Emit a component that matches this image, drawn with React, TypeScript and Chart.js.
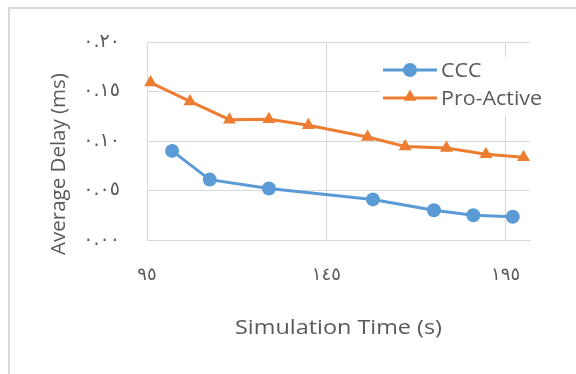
import React, { useEffect, useRef } from "react";
import { Chart, registerables } from "chart.js";

Chart.register(...registerables);

const cccX = [102, 112.5, 129, 158, 175, 186, 197];
const cccY = [0.090, 0.061, 0.052, 0.041, 0.030, 0.025, 0.0235];
const proX = [96, 107, 118, 129, 140, 156.5, 167, 178.5, 189.5, 200];
const proY = [0.159, 0.140, 0.1215, 0.122, 0.116, 0.104, 0.0945, 0.093, 0.0867, 0.0837];

const xTickValues = [95, 145, 195];
const xTickLabels = ["٩٥", "١٤٥", "١٩٥"];
const yTickValues = [0, 0.05, 0.1, 0.15, 0.2];
const yTickLabels = ["٠.٠٠", "٠.٠٥", "٠.١٠", "٠.١٥", "٠.٢٠"];

const seriesNames = ["CCC", "Pro-Active"];
const xTitle = "Simulation Time (s)";
const yTitle = "Average Delay (ms)";

const BLUE = "#5B9BD5";
const ORANGE = "#ED7D31";
const GRID = "#D9D9D9";
const TEXT = "#595959";
const FONT = "'Open Sans', sans-serif";
const TICK_FONT = "'DejaVu Sans', sans-serif";

function stretchedText(
  ctx: CanvasRenderingContext2D,
  text: string,
  x: number,
  y: number,
  sx: number,
  align: CanvasTextAlign
) {
  ctx.save();
  ctx.translate(x, y);
  ctx.scale(sx, 1);
  ctx.textAlign = align;
  ctx.fillText(text, 0, 0);
  ctx.restore();
}

const decor = {
  id: "decor",
  afterDraw(chart: any) {
    const ctx = chart.ctx as CanvasRenderingContext2D;
    const area = chart.chartArea;
    ctx.save();
    // outer frame (left + top edges)
    ctx.fillStyle = GRID;
    ctx.fillRect(8, 7, 568, 2);
    ctx.fillRect(8, 7, 2, 367);

    // axis titles
    ctx.fillStyle = TEXT;
    ctx.textBaseline = "middle";
    ctx.font = `20px ${FONT}`;
    stretchedText(ctx, xTitle, (area.left + area.right) / 2, 328, 1.17, "center");
    ctx.save();
    ctx.font = `20.5px ${FONT}`;
    ctx.translate(59, 164);
    ctx.rotate(-Math.PI / 2);
    ctx.textAlign = "center";
    ctx.fillText(yTitle, 0, 0);
    ctx.restore();

    // legend
    const lx = 380, ly = 57;
    ctx.fillStyle = "#FFFFFF";
    ctx.fillRect(lx, ly, 170, 58);
    const rows = [
      { name: seriesNames[0], color: BLUE, style: "circle", y: 70 },
      { name: seriesNames[1], color: ORANGE, style: "triangle", y: 98 },
    ];
    rows.forEach((r) => {
      ctx.strokeStyle = r.color;
      ctx.lineWidth = 3;
      ctx.beginPath();
      ctx.moveTo(383, r.y);
      ctx.lineTo(437, r.y);
      ctx.stroke();
      ctx.fillStyle = r.color;
      ctx.beginPath();
      if (r.style === "circle") {
        ctx.arc(410, r.y, 7, 0, Math.PI * 2);
      } else {
        const rad = 7.5;
        for (let i = 0; i < 3; i++) {
          const a = (i * 2 * Math.PI) / 3;
          const px = 410 + Math.sin(a) * rad;
          const py = r.y - 1 - Math.cos(a) * rad;
          if (i === 0) ctx.moveTo(px, py);
          else ctx.lineTo(px, py);
        }
        ctx.closePath();
      }
      ctx.fill();
      ctx.fillStyle = TEXT;
      ctx.font = `19.5px ${FONT}`;
      ctx.textBaseline = "middle";
      stretchedText(ctx, r.name, 441, r.y + 1, 1.1, "left");
    });
    ctx.restore();
  },
};

export default function App() {
  const ref = useRef<HTMLCanvasElement | null>(null);

  useEffect(() => {
    if (!ref.current) return;
    const chart = new Chart(ref.current, {
      type: "scatter",
      data: {
        datasets: [
          {
            label: seriesNames[0],
            data: cccX.map((x, i) => ({ x, y: cccY[i] })),
            showLine: true,
            borderColor: BLUE,
            backgroundColor: BLUE,
            borderWidth: 3,
            pointStyle: "circle",
            pointRadius: 7,
            pointBorderWidth: 0,
            clip: false,
          },
          {
            label: seriesNames[1],
            data: proX.map((x, i) => ({ x, y: proY[i] })),
            showLine: true,
            borderColor: ORANGE,
            backgroundColor: ORANGE,
            borderWidth: 3,
            pointStyle: "triangle",
            pointRadius: 7.5,
            pointBorderWidth: 0,
            clip: false,
          },
        ],
      },
      options: {
        responsive: false,
        animation: false,
        layout: { padding: { top: 42, right: 46, bottom: 74, left: 0 } },
        plugins: {
          legend: { display: false },
          tooltip: { enabled: false },
        },
        scales: {
          x: {
            type: "linear",
            min: 95,
            max: 201.8,
            afterBuildTicks: (s: any) => {
              s.ticks = xTickValues.map((v) => ({ value: v }));
            },
            afterFit: (s: any) => {
              s.height = 60;
            },
            ticks: {
              padding: 25,
              color: TEXT,
              font: { family: TICK_FONT, size: 18 },
              callback: (v: any) => {
                const i = xTickValues.indexOf(Number(v));
                return i >= 0 ? xTickLabels[i] : "";
              },
              maxRotation: 0,
            },
            grid: { color: GRID, lineWidth: 1, drawTicks: false },
            border: { color: GRID, width: 1 },
          },
          y: {
            type: "linear",
            min: 0,
            max: 0.2,
            afterBuildTicks: (s: any) => {
              s.ticks = yTickValues.map((v) => ({ value: v }));
            },
            afterFit: (s: any) => {
              s.width = 147;
            },
            ticks: {
              padding: 27,
              color: TEXT,
              font: { family: TICK_FONT, size: 19 },
              callback: (v: any) => {
                const i = yTickValues.findIndex((t) => Math.abs(t - Number(v)) < 1e-9);
                return i >= 0 ? yTickLabels[i] : "";
              },
            },
            grid: { color: GRID, lineWidth: 1, drawTicks: false },
            border: { color: GRID, width: 1 },
          },
        },
      },
      plugins: [decor],
    });
    return () => chart.destroy();
  }, []);

  return (
    <div style={{ position: "fixed", left: 0, top: 0, width: 576, height: 374, background: "#fff" }}>
      <canvas ref={ref} width={576} height={374} style={{ display: "block" }} />
    </div>
  );
}
